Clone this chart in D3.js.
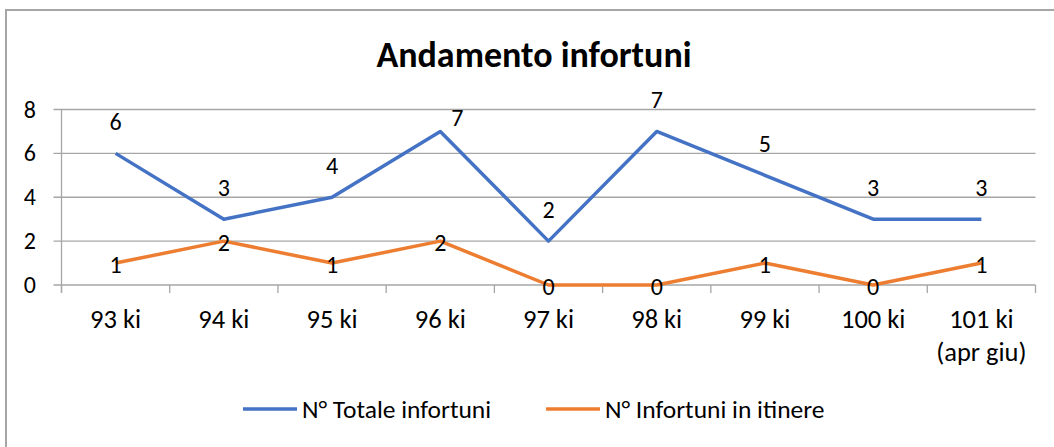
<!DOCTYPE html>
<html>
<head>
<meta charset="utf-8">
<script src="https://cdn.jsdelivr.net/npm/d3@7"></script>
<style>
  body { margin: 0; background: #fff; }
  text { font-family: Calibri, Carlito, Lato, sans-serif; fill: #000; }
</style>
</head>
<body>
<div id="chart"></div>
<script>
// chart data
var categories = ["93 ki", "94 ki", "95 ki", "96 ki", "97 ki", "98 ki", "99 ki", "100 ki", "101 ki|(apr giu)"];
var totale = [6, 3, 4, 7, 2, 7, 5, 3, 3];
var itinere = [1, 2, 1, 2, 0, 0, 1, 0, 1];
var yTicks = [0, 2, 4, 6, 8];
var seriesNames = ["N° Totale infortuni", "N° Infortuni in itinere"];
var colors = ["#4472C4", "#ED7D31"];

var W = 1054, H = 447;
var pLeft = 61.5, pRight = 1035.5, pTop = 109.5, pBottom = 285;

var svg = d3.select("#chart").append("svg")
  .attr("width", W).attr("height", H);

// outer frame (right & bottom fall outside)
svg.append("rect").attr("x", 6).attr("y", 10).attr("width", W).attr("height", H)
  .attr("fill", "none").attr("stroke", "#a6a6a6").attr("stroke-width", 2);

svg.append("text").text("Andamento infortuni")
  .attr("x", 534).attr("y", 67).attr("text-anchor", "middle")
  .attr("font-size", 36).attr("font-weight", "bold");

var x = d3.scaleBand().domain(categories).range([pLeft, pRight]);
var y = d3.scaleLinear().domain([0, 8]).range([pBottom, pTop]);
function px(i) { return x(categories[i]) + x.bandwidth() / 2; }

// gridlines
svg.append("g").selectAll("line").data(yTicks).enter().append("line")
  .attr("x1", pLeft - 8).attr("x2", pRight)
  .attr("y1", function(d) { return y(d); }).attr("y2", function(d) { return y(d); })
  .attr("stroke", "#a6a6a6").attr("stroke-width", 1.3);

// y axis line
svg.append("line").attr("x1", pLeft).attr("x2", pLeft).attr("y1", pTop).attr("y2", pBottom + 8)
  .attr("stroke", "#a6a6a6").attr("stroke-width", 1.3);

// category tick marks
var bounds = categories.map(function(c) { return x(c); }).concat([pRight]);
svg.append("g").selectAll("line").data(bounds).enter().append("line")
  .attr("x1", function(d) { return d; }).attr("x2", function(d) { return d; })
  .attr("y1", pBottom).attr("y2", pBottom + 8)
  .attr("stroke", "#a6a6a6").attr("stroke-width", 1.3);

// y labels
svg.append("g").selectAll("text").data(yTicks).enter().append("text")
  .text(function(d) { return d; })
  .attr("x", 36).attr("y", function(d) { return y(d) + 8; })
  .attr("text-anchor", "end").attr("font-size", 24);

// x labels
categories.forEach(function(c, i) {
  var lines = c.split("|");
  lines.forEach(function(t, k) {
    svg.append("text").text(t)
      .attr("x", px(i)).attr("y", 328 + k * 33)
      .attr("text-anchor", "middle").attr("font-size", 26.5);
  });
});

var line = d3.line()
  .x(function(d, i) { return px(i); })
  .y(function(d) { return y(d); });

[totale, itinere].forEach(function(s, k) {
  svg.append("path").datum(s).attr("d", line)
    .attr("fill", "none").attr("stroke", colors[k])
    .attr("stroke-width", 3.5).attr("stroke-linejoin", "round");
});

// data labels: blue above, orange centred
totale.forEach(function(v, i) {
  var dx = 0, dy = -32;
  if (i == 3) { dx = 17; dy = -14; }   // label moved by hand in the original
  svg.append("text").text(v)
    .attr("x", px(i) + dx).attr("y", y(v) + dy + 8.5)
    .attr("text-anchor", "middle").attr("font-size", 24);
});
itinere.forEach(function(v, i) {
  svg.append("text").text(v)
    .attr("x", px(i)).attr("y", y(v) + 9.5)
    .attr("text-anchor", "middle").attr("font-size", 24);
});

// legend
var legX = [243, 546];
seriesNames.forEach(function(n, k) {
  svg.append("line").attr("x1", legX[k]).attr("x2", legX[k] + 54)
    .attr("y1", 409).attr("y2", 409)
    .attr("stroke", colors[k]).attr("stroke-width", 3.5);
  svg.append("text").text(n)
    .attr("x", legX[k] + 59).attr("y", 418)
    .attr("font-size", 25.5);
});
</script>
</body>
</html>
